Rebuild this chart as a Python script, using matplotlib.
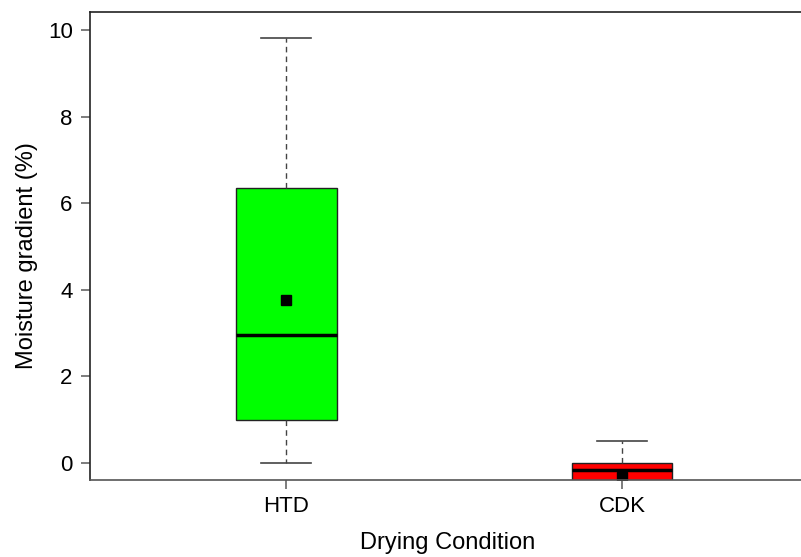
import matplotlib
matplotlib.use("Agg")
import matplotlib.pyplot as plt

plt.rcParams["font.family"] = ["Liberation Sans", "DejaVu Sans"]

# box statistics
groups = ["HTD", "CDK"]
medians = [2.96, -0.18]
q1 = [0.98, -0.55]
q3 = [6.34, 0.0]
whis_low = [0.0, -0.8]
whis_high = [9.81, 0.51]
means = [3.75, -0.32]
colors = ["#00FF00", "#FF0000"]

stats = []
for i, name in enumerate(groups):
    stats.append({
        "label": name,
        "med": medians[i],
        "q1": q1[i],
        "q3": q3[i],
        "whislo": whis_low[i],
        "whishi": whis_high[i],
        "mean": means[i],
        "fliers": [],
    })

fig = plt.figure(figsize=(8.01, 5.57), dpi=100)
ax = fig.add_axes([90 / 801, 1 - 480 / 557, 1.005 - 90 / 801, (480 - 11.5) / 557])

bp = ax.bxp(
    stats,
    positions=[1, 2],
    widths=0.3,
    capwidths=0.15,
    patch_artist=True,
    showmeans=True,
    boxprops=dict(edgecolor="#222222", linewidth=1.0),
    medianprops=dict(color="black", linewidth=2.5),
    whiskerprops=dict(color="#444444", linestyle=(0, (4, 3)), linewidth=1.0),
    capprops=dict(color="#444444", linewidth=1.2),
    meanprops=dict(marker="s", markerfacecolor="black", markeredgecolor="black", markersize=7),
)
for patch, c in zip(bp["boxes"], colors):
    patch.set_facecolor(c)

ax.set_xlim(0.416, 2.545)
ax.set_ylim(-0.40, 10.43)
ax.set_yticks([0, 2, 4, 6, 8, 10])
ax.set_xticks([1, 2])
ax.set_xticklabels(groups)

for side in ["left", "top", "bottom", "right"]:
    ax.spines[side].set_color("#222222")
    ax.spines[side].set_linewidth(1.2)
ax.spines["bottom"].set_color("#555555")

ax.tick_params(axis="both", labelsize=16, length=6.5, width=1.2, color="#666666")
ax.tick_params(axis="y", pad=6)
ax.tick_params(axis="x", pad=5)

ax.set_xlabel("Drying Condition", fontsize=17, labelpad=11)
ax.set_ylabel("Moisture gradient (%)", fontsize=17)
ax.yaxis.set_label_coords(-0.073, 0.48)

fig.savefig("out.png", dpi=100)
